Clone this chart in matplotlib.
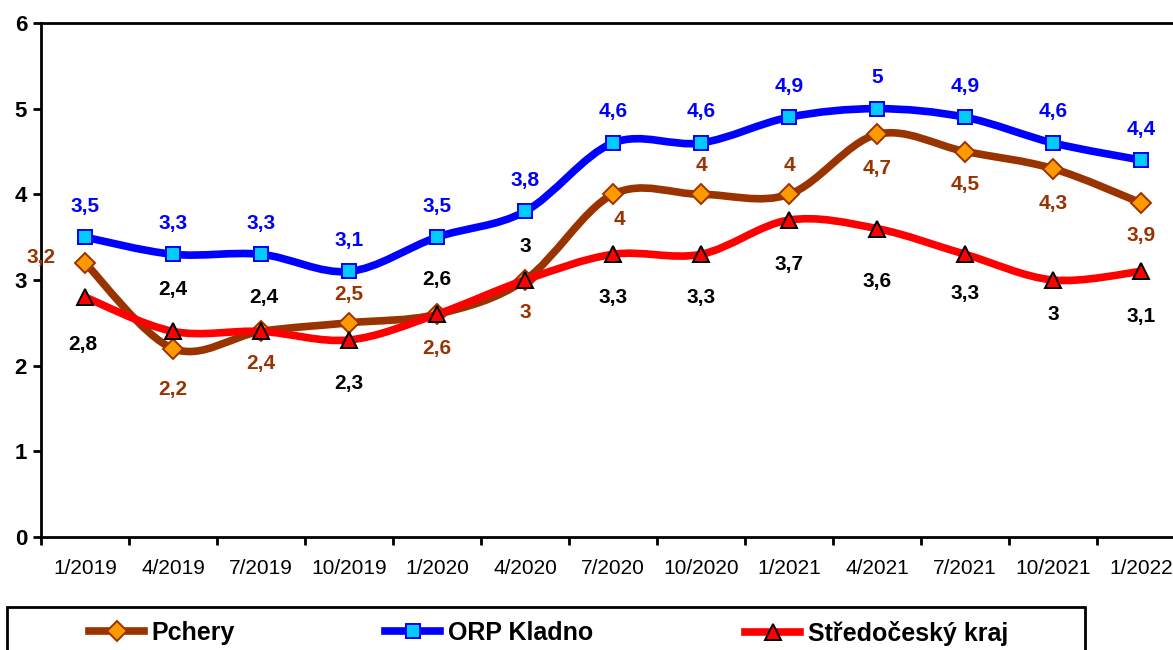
import numpy as np
import matplotlib.pyplot as plt
from matplotlib.path import Path
from matplotlib.patches import PathPatch, Rectangle
from matplotlib.lines import Line2D

plt.rcParams['font.family'] = ['Liberation Sans', 'DejaVu Sans']

months = ['1/2019', '4/2019', '7/2019', '10/2019', '1/2020', '4/2020', '7/2020',
          '10/2020', '1/2021', '4/2021', '7/2021', '10/2021', '1/2022']
pchery = [3.2, 2.2, 2.4, 2.5, 2.6, 3.0, 4.0, 4.0, 4.0, 4.7, 4.5, 4.3, 3.9]
kladno = [3.5, 3.3, 3.3, 3.1, 3.5, 3.8, 4.6, 4.6, 4.9, 5.0, 4.9, 4.6, 4.4]
kraj = [2.8, 2.4, 2.4, 2.3, 2.6, 3.0, 3.3, 3.3, 3.7, 3.6, 3.3, 3.0, 3.1]

# label offsets in pixels (dx, dy), y positive = down in picture
off_pchery = [(-44, -5), (0, 41), (0, 32), (0, -28), (0, 34), (0, 33), (6, 25),
              (0, -29), (0, -29), (0, 34), (0, 33), (0, 35), (0, 33)]
off_kladno = [(0, -31)] * 13
off_kraj = [(-2, 47), (0, -42), (3, -34), (0, 44), (0, -35), (0, -33), (0, 43),
            (0, 43), (0, 44), (0, 53), (0, 39), (0, 35), (0, 45)]


def smooth_path(xs, ys):
    # Excel-like smoothed line: Catmull-Rom segments as cubic Bezier curves
    pts = np.column_stack([xs, ys]).astype(float)
    ext = np.vstack([pts[0], pts, pts[-1]])
    verts = [pts[0]]
    codes = [Path.MOVETO]
    for i in range(len(pts) - 1):
        p0, p1, p2, p3 = ext[i], ext[i + 1], ext[i + 2], ext[i + 3]
        verts += [p1 + (p2 - p0) / 6, p2 - (p3 - p1) / 6, p2]
        codes += [Path.CURVE4] * 3
    return Path(verts, codes)


fig = plt.figure(figsize=(11.73, 6.5), dpi=100)
ax = fig.add_axes([41 / 1173, 113 / 650, 1144 / 1173, 514 / 650])
x = np.arange(len(months))

series = [
    (pchery, '#993300', 5.5, 'D', 10, '#FF9900', '#993300', '#993300', off_pchery, 'Pchery'),
    (kladno, '#0000FF', 5.5, 's', 9.5, '#00CCFF', '#0000FF', '#0000FF', off_kladno, 'ORP Kladno'),
    (kraj, '#FF0000', 5.5, '^', 11, '#FF0000', '#000000', '#000000', off_kraj, 'Středočeský kraj'),
]

handles = []
for k, (vals, lc, lw, mk, ms, mfc, mec, tc, offs, name) in enumerate(series):
    ax.add_patch(PathPatch(smooth_path(x, vals), fill=False, edgecolor=lc, lw=lw,
                           capstyle='round', joinstyle='round', zorder=2 + k))
    ax.plot(x, vals, linestyle='none', marker=mk, markersize=ms, markerfacecolor=mfc,
            markeredgecolor=mec, markeredgewidth=1.4, zorder=2.5 + k)
    for xi, v, (dx, dy) in zip(x, vals, offs):
        ax.annotate(f'{v:g}'.replace('.', ','), (xi, v), xytext=(dx, -dy),
                    textcoords='offset pixels', ha='center', va='center',
                    fontsize=15, fontweight='bold', color=tc, zorder=10,
                    annotation_clip=False)
    handles.append(Line2D([], [], color=lc, lw=lw, marker=mk, markersize=ms,
                          markerfacecolor=mfc, markeredgecolor=mec, markeredgewidth=1.4))

ax.set_xlim(-0.5, len(months) - 0.5)
ax.set_ylim(0, 6)
ax.set_yticks(range(7))
ax.tick_params(axis='y', direction='out', length=6, width=2, labelsize=16, pad=4)
for lab in ax.get_yticklabels():
    lab.set_fontweight('bold')
ax.set_xticks(np.arange(-0.5, len(months), 1.0))
ax.set_xticklabels([])
ax.tick_params(axis='x', which='major', direction='out', length=6, width=2)
ax.set_xticks(x, minor=True)
ax.set_xticklabels(months, minor=True)
ax.tick_params(axis='x', which='minor', length=0, labelsize=15, pad=16)
ax.spines['right'].set_visible(False)
for side in ['left', 'bottom', 'top']:
    ax.spines[side].set_linewidth(2)

# legend frame and entries
fig.patches.append(Rectangle((7 / 1173, -0.02), 1078 / 1173, 0.02 + 43 / 650,
                             transform=fig.transFigure, fill=False,
                             edgecolor='black', lw=2))
for h, name, left in zip(handles, [s[-1] for s in series], [89, 385, 745]):
    fig.legend([h], [name], loc='center left', bbox_to_anchor=(left / 1173, 17 / 650),
               frameon=False, handlelength=2.2, handletextpad=0.3, borderpad=0,
               borderaxespad=0, prop={'size': 18, 'weight': 'bold'})

fig.savefig('out.png', dpi=100)
